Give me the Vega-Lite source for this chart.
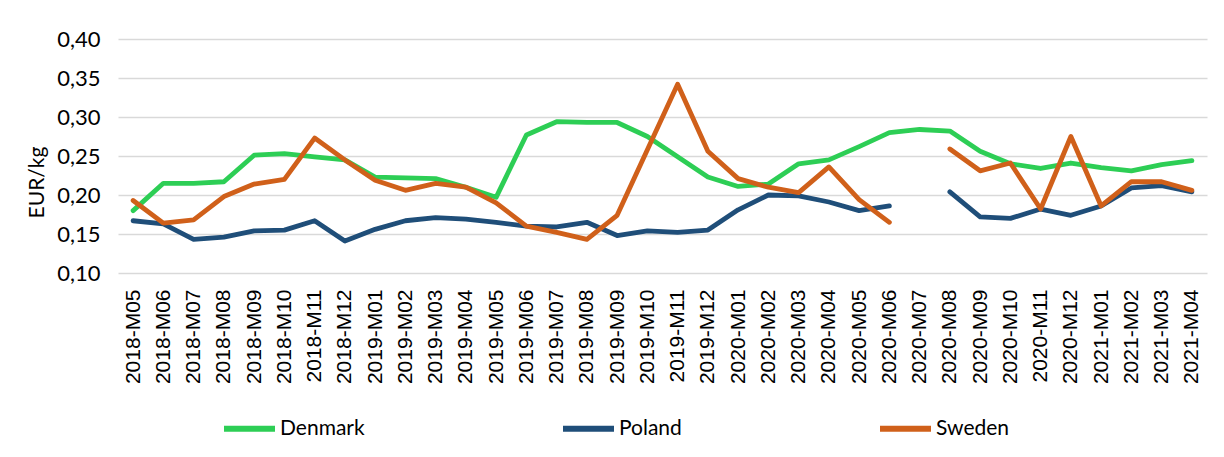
{
  "$schema": "https://vega.github.io/schema/vega-lite/v6.json",
  "width": 1089,
  "height": 234,
  "autosize": {"type": "none"},
  "padding": {"left": 118, "top": 39, "right": 17, "bottom": 184},
  "background": "white",
  "config": {
    "view": {"stroke": null},
    "font": "Lato"
  },
  "data": {
    "values": [
      {"month": "2018-M05", "Denmark": 0.180, "Poland": 0.167, "Sweden": 0.193},
      {"month": "2018-M06", "Denmark": 0.215, "Poland": 0.163, "Sweden": 0.164},
      {"month": "2018-M07", "Denmark": 0.215, "Poland": 0.143, "Sweden": 0.168},
      {"month": "2018-M08", "Denmark": 0.217, "Poland": 0.146, "Sweden": 0.198},
      {"month": "2018-M09", "Denmark": 0.251, "Poland": 0.154, "Sweden": 0.214},
      {"month": "2018-M10", "Denmark": 0.253, "Poland": 0.155, "Sweden": 0.220},
      {"month": "2018-M11", "Denmark": 0.249, "Poland": 0.167, "Sweden": 0.273},
      {"month": "2018-M12", "Denmark": 0.245, "Poland": 0.141, "Sweden": 0.245},
      {"month": "2019-M01", "Denmark": 0.223, "Poland": 0.156, "Sweden": 0.219},
      {"month": "2019-M02", "Denmark": 0.222, "Poland": 0.167, "Sweden": 0.206},
      {"month": "2019-M03", "Denmark": 0.221, "Poland": 0.171, "Sweden": 0.215},
      {"month": "2019-M04", "Denmark": 0.210, "Poland": 0.169, "Sweden": 0.210},
      {"month": "2019-M05", "Denmark": 0.197, "Poland": 0.165, "Sweden": 0.190},
      {"month": "2019-M06", "Denmark": 0.277, "Poland": 0.160, "Sweden": 0.160},
      {"month": "2019-M07", "Denmark": 0.294, "Poland": 0.159, "Sweden": 0.152},
      {"month": "2019-M08", "Denmark": 0.293, "Poland": 0.165, "Sweden": 0.143},
      {"month": "2019-M09", "Denmark": 0.293, "Poland": 0.148, "Sweden": 0.174},
      {"month": "2019-M10", "Denmark": 0.275, "Poland": 0.154, "Sweden": 0.258},
      {"month": "2019-M11", "Denmark": 0.249, "Poland": 0.152, "Sweden": 0.342},
      {"month": "2019-M12", "Denmark": 0.223, "Poland": 0.155, "Sweden": 0.256},
      {"month": "2020-M01", "Denmark": 0.211, "Poland": 0.181, "Sweden": 0.221},
      {"month": "2020-M02", "Denmark": 0.214, "Poland": 0.200, "Sweden": 0.210},
      {"month": "2020-M03", "Denmark": 0.240, "Poland": 0.199, "Sweden": 0.203},
      {"month": "2020-M04", "Denmark": 0.245, "Poland": 0.191, "Sweden": 0.236},
      {"month": "2020-M05", "Denmark": 0.262, "Poland": 0.180, "Sweden": 0.194},
      {"month": "2020-M06", "Denmark": 0.280, "Poland": 0.186, "Sweden": 0.165},
      {"month": "2020-M07", "Denmark": 0.284, "Poland": null, "Sweden": null},
      {"month": "2020-M08", "Denmark": 0.282, "Poland": 0.204, "Sweden": 0.259},
      {"month": "2020-M09", "Denmark": 0.256, "Poland": 0.172, "Sweden": 0.231},
      {"month": "2020-M10", "Denmark": 0.240, "Poland": 0.170, "Sweden": 0.241},
      {"month": "2020-M11", "Denmark": 0.234, "Poland": 0.182, "Sweden": 0.182},
      {"month": "2020-M12", "Denmark": 0.241, "Poland": 0.174, "Sweden": 0.275},
      {"month": "2021-M01", "Denmark": 0.235, "Poland": 0.186, "Sweden": 0.186},
      {"month": "2021-M02", "Denmark": 0.231, "Poland": 0.209, "Sweden": 0.217},
      {"month": "2021-M03", "Denmark": 0.239, "Poland": 0.212, "Sweden": 0.217},
      {"month": "2021-M04", "Denmark": 0.244, "Poland": 0.204, "Sweden": 0.206}
    ]
  },
  "transform": [
    {"fold": ["Denmark", "Poland", "Sweden"], "as": ["country", "value"]}
  ],
  "mark": {
    "type": "line",
    "strokeWidth": 4.8,
    "strokeCap": "round",
    "strokeJoin": "round",
    "invalid": "break-paths-show-domains"
  },
  "encoding": {
    "x": {
      "field": "month",
      "type": "nominal",
      "title": null,
      "scale": {"paddingOuter": 0.5},
      "axis": {
        "labelAngle": -90,
        "labelFont": "Liberation Sans",
        "labelFontSize": 21,
        "labelColor": "#000000",
        "labelPadding": 16,
        "ticks": false,
        "tickSize": 0,
        "domain": false,
        "grid": false
      }
    },
    "y": {
      "field": "value",
      "type": "quantitative",
      "title": "EUR/kg",
      "scale": {"domain": [0.10, 0.40], "nice": false, "zero": false},
      "axis": {
        "values": [0.10, 0.15, 0.20, 0.25, 0.30, 0.35, 0.40],
        "labelExpr": "replace(format(datum.value, '.2f'), '.', ',')",
        "labelFont": "Lato",
        "labelFontSize": 22,
        "labelColor": "#000000",
        "labelPadding": 18,
        "ticks": false,
        "tickSize": 0,
        "domain": false,
        "gridColor": "#D9D9D9",
        "gridWidth": 1.5,
        "titleFont": "Lato",
        "titleFontSize": 21,
        "titleFontWeight": "normal",
        "titleColor": "#000000",
        "titleX": -81,
        "titleY": 143,
        "titleAngle": -90,
        "titleAlign": "center",
        "titleBaseline": "middle"
      }
    },
    "color": {
      "field": "country",
      "type": "nominal",
      "scale": {
        "domain": ["Denmark", "Poland", "Sweden"],
        "range": ["#2DCE55", "#1F4E79", "#D0601A"]
      },
      "legend": {
        "title": null,
        "orient": "none",
        "legendX": 103,
        "legendY": 361,
        "direction": "horizontal",
        "symbolType": "stroke",
        "symbolSize": 2601,
        "symbolStrokeWidth": 6,
        "labelFont": "Lato",
        "labelFontSize": 21,
        "labelColor": "#000000",
        "labelOffset": 2,
        "columnPadding": 186,
        "padding": 0
      }
    }
  }
}
